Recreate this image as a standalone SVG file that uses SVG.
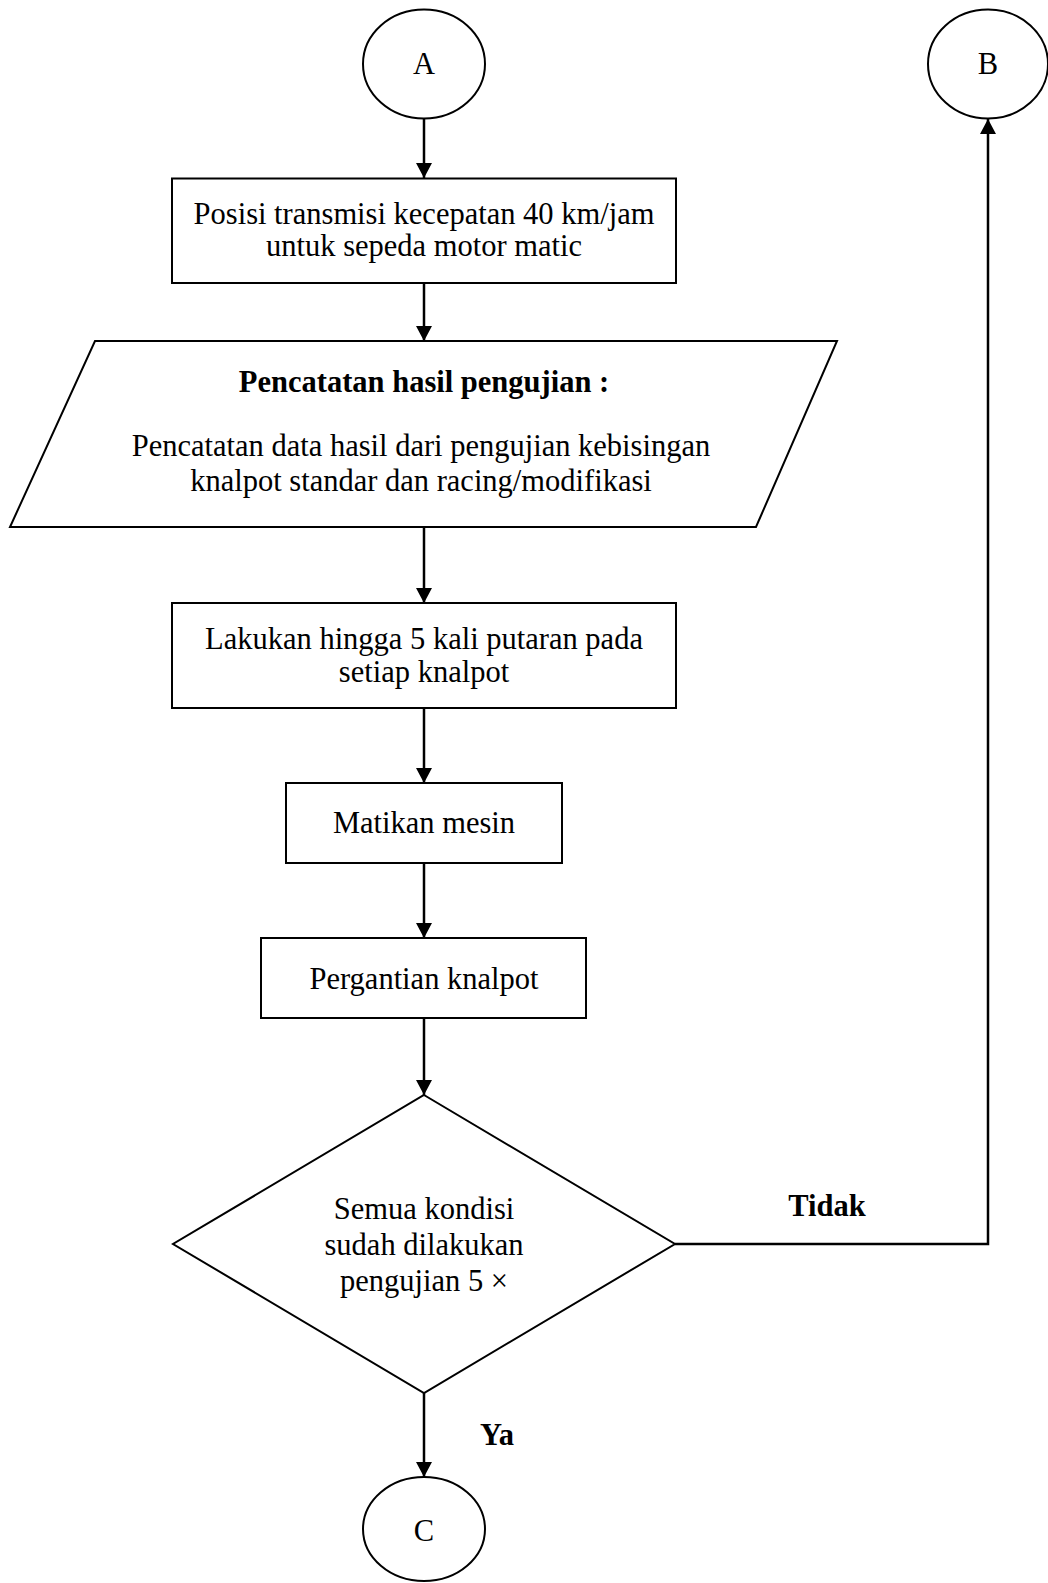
<svg xmlns="http://www.w3.org/2000/svg" width="1048" height="1583" viewBox="0 0 1048 1583">
<style>
.s{fill:#fff;stroke:#000;stroke-width:2}
.t{font-family:"Liberation Serif","Times New Roman",serif;font-size:30.5px;fill:#000;text-anchor:middle}
.b{font-weight:bold}
.c{fill:none;stroke:#000;stroke-width:2.5}
</style>
<defs>
<marker id="arr" markerWidth="17" markerHeight="16" refX="16" refY="8.5" orient="auto" markerUnits="userSpaceOnUse" viewBox="0 0 16 17">
<path d="M0,0 L16,8.5 L0,17 Z" fill="#000"/>
</marker>
</defs>
<rect width="1048" height="1583" fill="#fff"/>
<g id="connectors">
<line class="c" x1="424" y1="118" x2="424" y2="178" marker-end="url(#arr)"/>
<line class="c" x1="424" y1="283" x2="424" y2="341" marker-end="url(#arr)"/>
<line class="c" x1="424" y1="527" x2="424" y2="603" marker-end="url(#arr)"/>
<line class="c" x1="424" y1="708" x2="424" y2="783" marker-end="url(#arr)"/>
<line class="c" x1="424" y1="863" x2="424" y2="938" marker-end="url(#arr)"/>
<line class="c" x1="424" y1="1018" x2="424" y2="1095" marker-end="url(#arr)"/>
<line class="c" x1="424" y1="1393" x2="424" y2="1477" marker-end="url(#arr)"/>
<polyline class="c" points="675,1244 988,1244 988,119" marker-end="url(#arr)"/>
<text class="t b" x="497" y="1445">Ya</text>
<text class="t b" x="827" y="1216">Tidak</text>
</g>
<g id="nodeA">
<ellipse class="s" cx="424" cy="64" rx="61" ry="54.5"/>
<text class="t" x="424" y="74">A</text>
</g>
<g id="nodeB">
<ellipse class="s" cx="988" cy="64" rx="60" ry="54.5"/>
<text class="t" x="988" y="74">B</text>
</g>
<g id="step1">
<rect class="s" x="172" y="178.5" width="504" height="104.5"/>
<text class="t" x="424" y="224">Posisi transmisi kecepatan 40 km/jam</text>
<text class="t" x="424" y="256">untuk sepeda motor matic</text>
</g>
<g id="record">
<polygon class="s" points="95,341 837,341 756,527 10,527"/>
<text class="t b" x="424" y="392">Pencatatan hasil pengujian :</text>
<text class="t" x="421" y="456">Pencatatan data hasil dari pengujian kebisingan</text>
<text class="t" x="421" y="491">knalpot standar dan racing/modifikasi</text>
</g>
<g id="step2">
<rect class="s" x="172" y="603" width="504" height="105"/>
<text class="t" x="424" y="649">Lakukan hingga 5 kali putaran pada</text>
<text class="t" x="424" y="682">setiap knalpot</text>
</g>
<g id="step3">
<rect class="s" x="286" y="783" width="276" height="80"/>
<text class="t" x="424" y="833">Matikan mesin</text>
</g>
<g id="step4">
<rect class="s" x="261" y="938" width="325" height="80"/>
<text class="t" x="424" y="989">Pergantian knalpot</text>
</g>
<g id="decision">
<polygon class="s" points="424,1095 675,1244 424,1393 173,1244"/>
<text class="t" x="424" y="1219">Semua kondisi</text>
<text class="t" x="424" y="1255">sudah dilakukan</text>
<text class="t" x="424" y="1291">pengujian 5 ×</text>
</g>
<g id="nodeC">
<ellipse class="s" cx="424" cy="1529" rx="61" ry="52"/>
<text class="t" x="424" y="1541">C</text>
</g>
</svg>
